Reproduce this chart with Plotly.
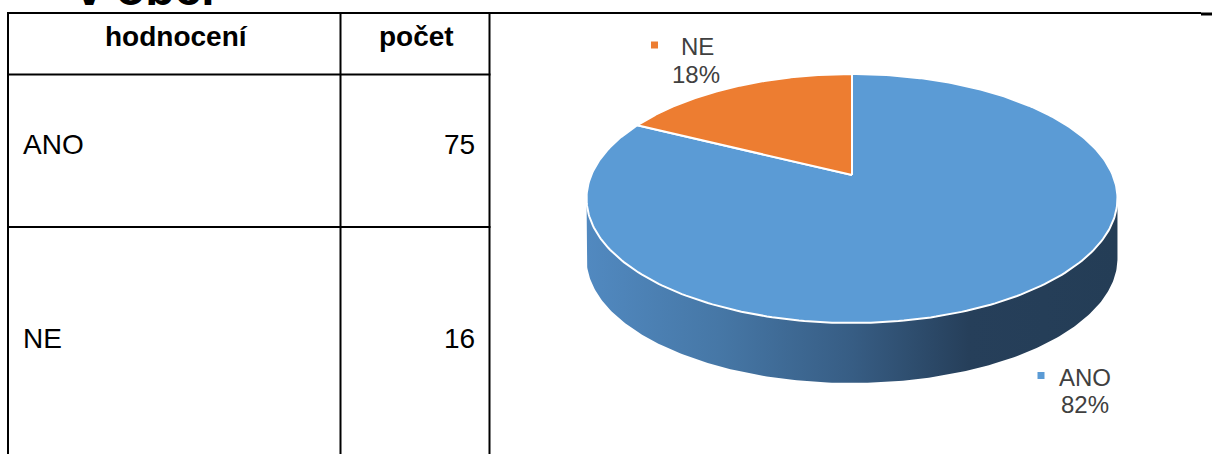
import numpy as np
import plotly.graph_objects as go

# ---------------- data ----------------
categories = ["ANO", "NE"]
counts = [75, 16]
header = ["hodnocení", "počet"]
title_text = "v obci"
slice_colors = ["#5b9bd5", "#ed7d31"]

# ---------------- 3D pie geometry (pixel space) ----------------
W, H = 1212, 454
cx, cy = 852.0, 175.0      # projected centre of the top face
a, b, k = 260.7, 120.06, 0.1887   # perspective ellipse parameters
depth = 60.0               # thickness of the pie


def proj(theta_deg, dy=0.0):
    t = np.radians(theta_deg)
    u, v = np.sin(t), np.cos(t)
    d = 1 + k * v
    return cx + a * u / d, cy + dy - b * v / d


total = float(sum(counts))
fracs = [c / total for c in counts]
starts = np.concatenate([[0.0], np.cumsum(fracs)[:-1]]) * 360.0
ends = np.cumsum(fracs) * 360.0

theta_r = np.degrees(np.arctan2(np.sqrt(1 - k * k), -k))  # rightmost silhouette
theta_l = 360.0 - theta_r                                 # leftmost silhouette

fig = go.Figure()

# side walls (only the front part is visible)
for lab, s, e in zip(categories, starts, ends):
    lo, hi = max(s, theta_r), min(e, theta_l)
    if hi <= lo:
        continue
    th = np.linspace(lo, hi, 200)
    xt, yt = proj(th)
    xb, yb = proj(th[::-1], depth)
    xs = np.concatenate([xt, xb, xt[:1]])
    ys = np.concatenate([yt, yb, yt[:1]])
    fig.add_trace(go.Scatter(
        x=xs, y=ys, mode="lines", fill="toself",
        line=dict(width=0, color="rgba(0,0,0,0)"),
        fillgradient=dict(
            type="horizontal",
            colorscale=[[0, "#5189c0"], [0.25, "#4677a6"], [0.5, "#375d84"],
                        [0.72, "#263f5a"], [1, "#243d56"]]),
        hoverinfo="skip", showlegend=False))

# top faces
for lab, s, e, col in zip(categories, starts, ends, slice_colors):
    th = np.linspace(s, e, 300)
    xa, ya = proj(th)
    xs = np.concatenate([[cx], xa, [cx]])
    ys = np.concatenate([[cy], ya, [cy]])
    fig.add_trace(go.Scatter(
        x=xs, y=ys, mode="lines", fill="toself", fillcolor=col,
        line=dict(width=2, color="white"),
        hoverinfo="skip", showlegend=False))

# data labels (marker + name + percent)
label_pos = {"NE": (654.5, 45.0, 679.0, 696.0), "ANO": (1041.0, 375.5, 1057.0, 1085.0)}
label_y2 = {"NE": 74.0, "ANO": 404.0}
annotations = []
for lab, f, col in zip(categories, fracs, slice_colors):
    mx, my, tx, px = label_pos[lab]
    fig.add_trace(go.Scatter(
        x=[mx], y=[my], mode="markers",
        marker=dict(symbol="square", size=7, color=col),
        hoverinfo="skip", showlegend=False))
    annotations.append(dict(x=tx, y=my + 1.5, text=lab, xanchor="left", yanchor="middle",
                            xref="x", yref="y",
                            font=dict(family="Liberation Sans", size=24, color="#404040")))
    annotations.append(dict(x=px, y=label_y2[lab], text=f"{round(f * 100)}%",
                            xanchor="center", yanchor="middle", xref="x", yref="y",
                            font=dict(family="Liberation Sans", size=24, color="#404040")))

# ---------------- table ----------------
tx0, tx1, tx2 = 8, 340.5, 489.5
ty0, ty1, ty2 = 13, 74.5, 227
row_text_y = [144, 338]

shapes = []
line = dict(color="black", width=2)
shapes.append(dict(type="line", x0=tx0 - 1, x1=1201, y0=ty0, y1=ty0, line=line))
shapes.append(dict(type="line", x0=1201, x1=1212, y0=14, y1=14, line=dict(color="black", width=3)))
for yy in (ty1, ty2):
    shapes.append(dict(type="line", x0=tx0 - 1, x1=tx2 + 1, y0=yy, y1=yy, line=line))
for xx in (tx0, tx1, tx2):
    shapes.append(dict(type="line", x0=xx, x1=xx, y0=ty0, y1=H + 2, line=line))

tfont = dict(family="Liberation Sans", size=28, color="black")
annotations.append(dict(x=176, y=36, text=f"<b>{header[0]}</b>", xanchor="center", yanchor="middle",
                        xref="x", yref="y", font=tfont))
annotations.append(dict(x=416, y=36, text=f"<b>{header[1]}</b>", xanchor="center", yanchor="middle",
                        xref="x", yref="y", font=tfont))
for lab, c, yy in zip(categories, counts, row_text_y):
    annotations.append(dict(x=21, y=yy, text=lab, xanchor="left", yanchor="middle",
                            xref="x", yref="y", font=tfont))
    annotations.append(dict(x=477, y=yy, text=str(c), xanchor="right", yanchor="middle",
                            xref="x", yref="y", font=tfont))

# cut-off heading above the table (paper coords so it is not hidden off-range)
annotations.append(dict(x=74 / W, y=1 + 12 / H, text=f"<b>{title_text}</b>", xanchor="left",
                        yanchor="middle", xref="paper", yref="paper",
                        font=dict(family="Liberation Sans", size=48, color="black")))

for an in annotations:
    an.update(showarrow=False)

fig.update_layout(
    width=W, height=H, autosize=False,
    margin=dict(l=0, r=0, t=0, b=0, pad=0),
    paper_bgcolor="white", plot_bgcolor="white",
    xaxis=dict(range=[0, W], visible=False, fixedrange=True),
    yaxis=dict(range=[H, 0], visible=False, fixedrange=True),
    shapes=shapes, annotations=annotations, showlegend=False,
)

fig.write_html("out.html", config={"displayModeBar": False},
               post_script="document.body.style.margin='0';document.body.style.overflow='hidden';")
